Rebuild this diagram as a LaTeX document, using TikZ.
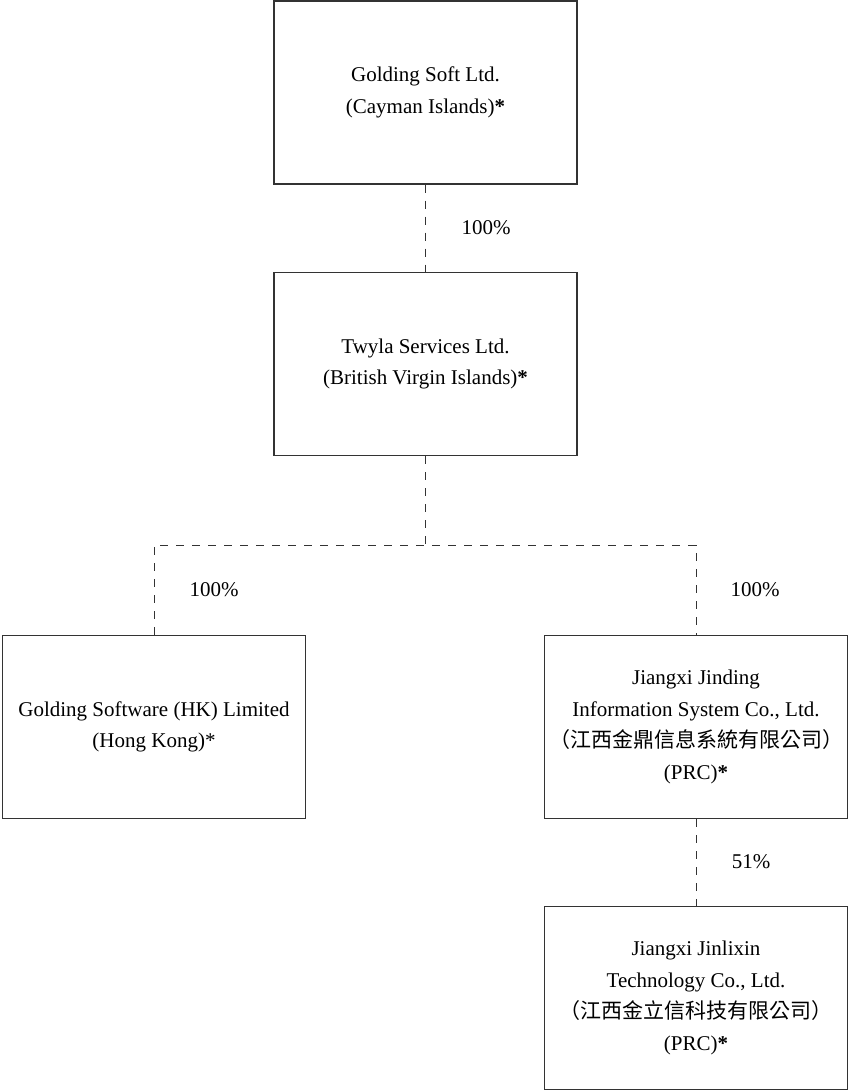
\documentclass[tikz,border=0pt]{standalone}
\usepackage{fontspec}
\setmainfont{Liberation Serif}
\newfontfamily\cjk{Noto Sans CJK TC}
\begin{document}
\begin{tikzpicture}[x=1pt,y=-1pt,
  entity/.style={draw=black!80,line width=1.3pt,minimum width=303pt,minimum height=183pt,
    align=center,inner sep=0pt,font=\fontsize{21}{31.5}\selectfont},
  link/.style={draw=black!80,line width=1pt,dash pattern=on 8pt off 8pt},
  pct/.style={font=\fontsize{21}{25}\selectfont,inner sep=0pt}]
\useasboundingbox (0,0) rectangle (848,1090);
\node[entity] (gs) at (425.5,92.5) {Golding Soft Ltd.\\(Cayman Islands)\textbf{*}};
\node[entity] (tw) at (425.5,364) {Twyla Services Ltd.\\(British Virgin Islands)\textbf{*}};
\node[entity] (hk) at (154,727) {Golding Software (HK) Limited\\(Hong Kong)*};
\node[entity] (jd) at (696,727) {Jiangxi Jinding\\Information System Co., Ltd.\\{\cjk\fontsize{21}{31.5}\selectfont （江西金鼎信息系統有限公司）}\\(PRC)\textbf{*}};
\node[entity] (jl) at (696,998) {Jiangxi Jinlixin\\Technology Co., Ltd.\\{\cjk\fontsize{21}{31.5}\selectfont （江西金立信科技有限公司）}\\(PRC)\textbf{*}};
\coordinate (j) at (425.5,545);
\draw[link] (gs.south) -- (tw.north);
\draw[link] (tw.south) -- (j);
\draw[link] (hk.north) |- (j) -| (jd.north);
\draw[link] (jd.south) -- (jl.north);
\node[pct] (p1) at (486,228) {100\%};
\node[pct] (p2) at (214,590) {100\%};
\node[pct] (p3) at (755,590) {100\%};
\node[pct] (p4) at (751,862) {51\%};
\end{tikzpicture}
\end{document}
